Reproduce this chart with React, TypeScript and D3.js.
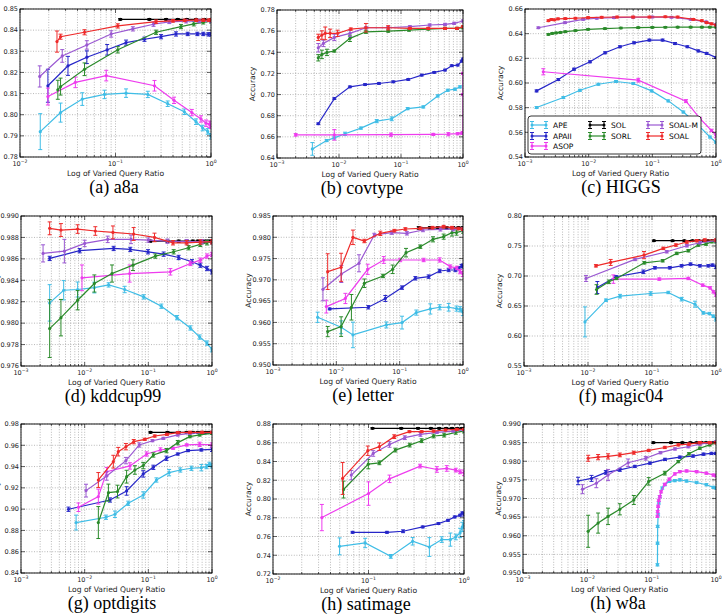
import React from 'react';
import * as d3 from 'd3';

// [method, query ratios, accuracy, error bar half-heights (array or one value for all points)]
type Row = [string, number[], number[], number[] | number];

const methodNames = ['APE', 'APAII', 'ASOP', 'SOL', 'SORL', 'SOAL-M', 'SOAL'];
const methodColors: Record<string, string> = {
  APE: '#3fbde6',
  APAII: '#2626c8',
  ASOP: '#ee3cee',
  SOL: '#000000',
  SORL: '#2a8a2a',
  'SOAL-M': '#9a58d2',
  SOAL: '#ee2a2a',
};

const a8aRows: Row[] = [
  ['APE', [0.0163, 0.0266, 0.0449, 0.0767, 0.129, 0.218, 0.352, 0.526, 0.697, 0.818, 0.923, 1.0],
    [0.792, 0.801, 0.8074, 0.8096, 0.8102, 0.8096, 0.8052, 0.8014, 0.7967, 0.7937, 0.7921, 0.7898],
    [0.0085, 0.0045, 0.003, 0.002, 0.002, 0.0015, 0.0013, 0.0013, 0.0013, 0.0013, 0.0013, 0.0013]],
  ['APAII', [0.0196, 0.0318, 0.0501, 0.0818, 0.129, 0.201, 0.3, 0.43, 0.57, 0.72, 0.83, 0.94, 1.0],
    [0.8137, 0.8231, 0.8272, 0.8307, 0.8341, 0.8357, 0.8369, 0.8382, 0.8382, 0.8382, 0.8382, 0.838, 0.838],
    [0.0078, 0.0045, 0.003, 0.0025, 0.0012, 0.001, 0.001, 0.001, 0.0008, 0.0008, 0.0008, 0.0008, 0.0008]],
  ['ASOP', [0.0196, 0.038, 0.08, 0.256, 0.41, 0.63, 0.785, 0.887, 0.96, 1.0],
    [0.8086, 0.8153, 0.8185, 0.8137, 0.8068, 0.801, 0.798, 0.796, 0.7955, 0.795],
    [0.004, 0.0025, 0.0025, 0.0025, 0.0015, 0.0015, 0.0015, 0.0015, 0.0015, 0.0015]],
  ['SOL', [0.112, 0.226, 0.339, 0.449, 0.557, 0.697, 0.851, 1.0],
    [0.8451, 0.8451, 0.8451, 0.8451, 0.8451, 0.8451, 0.8451, 0.8451], 0.0004],
  ['SORL', [0.0249, 0.0266, 0.0474, 0.1057, 0.266, 0.485, 0.66, 0.83, 1.0],
    [0.8118, 0.8133, 0.8215, 0.8307, 0.839, 0.8417, 0.843, 0.8437, 0.8442],
    [0.0045, 0.004, 0.003, 0.0015, 0.001, 0.001, 0.001, 0.0008, 0.0008]],
  ['SOAL-M', [0.0161, 0.0277, 0.0501, 0.0901, 0.152, 0.25, 0.366, 0.55, 0.75, 1.0],
    [0.8181, 0.8278, 0.833, 0.8382, 0.8406, 0.8428, 0.8439, 0.8442, 0.8443, 0.8443],
    [0.005, 0.003, 0.002, 0.0015, 0.001, 0.001, 0.0008, 0.0008, 0.0008, 0.0008]],
  ['SOAL', [0.0244, 0.0266, 0.0474, 0.1057, 0.266, 0.4, 0.53, 0.7, 0.83, 0.95, 1.0],
    [0.8346, 0.8369, 0.839, 0.842, 0.844, 0.8444, 0.8446, 0.8447, 0.8447, 0.8447, 0.8447],
    [0.005, 0.0012, 0.0012, 0.001, 0.0008, 0.0006, 0.0006, 0.0006, 0.0006, 0.0006, 0.0006]],
];

const covtypeRows: Row[] = [
  ['APE', [0.00372, 0.00633, 0.0084, 0.0125, 0.0226, 0.0406, 0.0708, 0.128, 0.229, 0.391, 0.567, 0.743, 0.895],
    [0.6486, 0.6565, 0.659, 0.6629, 0.6683, 0.6749, 0.6771, 0.6867, 0.6883, 0.6987, 0.7041, 0.7051, 0.7073],
    [0.006, 0.001, 0.001, 0.0015, 0.001, 0.0015, 0.0018, 0.001, 0.001, 0.001, 0.001, 0.001, 0.001]],
  ['APAII', [0.00463, 0.0084, 0.015, 0.0263, 0.0441, 0.0751, 0.131, 0.216, 0.344, 0.513, 0.658, 0.822, 0.953, 1.0],
    [0.6724, 0.6962, 0.7073, 0.7095, 0.7105, 0.7121, 0.7143, 0.7184, 0.721, 0.7232, 0.7273, 0.7279, 0.7317, 0.7337], 0.0008],
  ['ASOP', [0.002, 0.0084, 0.069, 0.332, 0.58, 0.82, 0.96, 1.0, 1.0, 1.0],
    [0.6619, 0.6619, 0.6621, 0.6623, 0.6625, 0.663, 0.6635, 0.664, 0.7, 0.72],
    [0.0012, 0.005, 0.0015, 0.001, 0.0015, 0.001, 0.001, 0.001, 0.001, 0.001]],
  ['SORL', [0.00463, 0.0053, 0.0064, 0.0084, 0.015, 0.0272, 0.0622, 0.135, 0.275, 0.513, 0.8, 1.0],
    [0.7348, 0.738, 0.7399, 0.7412, 0.7532, 0.7594, 0.76, 0.761, 0.762, 0.7626, 0.7626, 0.7632],
    [0.003, 0.004, 0.003, 0.001, 0.003, 0.0015, 0.001, 0.001, 0.001, 0.001, 0.001, 0.001]],
  ['SOAL-M', [0.00463, 0.0056, 0.0084, 0.015, 0.0272, 0.0622, 0.139, 0.29, 0.513, 0.72, 1.0],
    [0.7443, 0.7484, 0.7541, 0.7579, 0.7632, 0.7632, 0.7642, 0.7658, 0.7664, 0.7674, 0.7696],
    [0.004, 0.003, 0.003, 0.003, 0.001, 0.001, 0.001, 0.001, 0.001, 0.001, 0.001]],
  ['SOAL', [0.00463, 0.0053, 0.006, 0.0072, 0.0095, 0.0155, 0.0272, 0.0622, 0.139, 0.275, 0.513, 0.8, 1.0],
    [0.7541, 0.7563, 0.7579, 0.7579, 0.7579, 0.762, 0.7632, 0.7632, 0.7626, 0.7626, 0.7626, 0.7626, 0.7642],
    [0.003, 0.004, 0.006, 0.004, 0.003, 0.001, 0.004, 0.002, 0.001, 0.001, 0.001, 0.001, 0.001]],
];

const higgsRows: Row[] = [
  ['APE', [0.00152, 0.004, 0.0073, 0.0142, 0.0269, 0.0503, 0.0977, 0.178, 0.307, 0.497, 0.805, 1.0],
    [0.5801, 0.5882, 0.5941, 0.599, 0.6012, 0.5996, 0.5936, 0.5855, 0.5765, 0.5671, 0.5562, 0.552], 0.0008],
  ['APAII', [0.00152, 0.00334, 0.00589, 0.0105, 0.0181, 0.031, 0.0515, 0.0897, 0.145, 0.227, 0.355, 0.528, 0.713, 1.0],
    [0.5936, 0.6028, 0.6112, 0.6172, 0.6245, 0.6294, 0.6326, 0.6348, 0.6348, 0.632, 0.6294, 0.626, 0.624, 0.6207], 0.0008],
  ['ASOP', [0.00194, 0.0603, 0.338, 0.561, 0.85, 1.0],
    [0.6091, 0.6023, 0.5853, 0.5711, 0.5615, 0.5576],
    [0.0025, 0.0015, 0.0012, 0.001, 0.001, 0.002]],
  ['SORL', [0.00233, 0.00268, 0.00308, 0.0036, 0.0043, 0.0062, 0.0098, 0.018, 0.032, 0.06, 0.1, 0.16, 0.25, 0.4, 0.6, 0.8, 1.0],
    [0.6394, 0.6402, 0.6406, 0.641, 0.6416, 0.6425, 0.6435, 0.6441, 0.6446, 0.6449, 0.6451, 0.6452, 0.6453, 0.6453, 0.6453, 0.6453, 0.6453], 0.0006],
  ['SOAL-M', [0.00162, 0.00424, 0.0082, 0.0134, 0.025, 0.05, 0.1, 0.2, 0.4, 0.7, 1.0],
    [0.6448, 0.6489, 0.6516, 0.6525, 0.653, 0.6533, 0.6535, 0.6533, 0.6516, 0.6495, 0.6472], 0.0007],
  ['SOAL', [0.00233, 0.0026, 0.0029, 0.0033, 0.0043, 0.0062, 0.0098, 0.016, 0.028, 0.05, 0.09, 0.16, 0.25, 0.44, 0.6, 0.713, 0.85, 1.0],
    [0.6505, 0.6515, 0.6512, 0.652, 0.6522, 0.6525, 0.653, 0.6533, 0.6535, 0.6535, 0.6535, 0.6537, 0.6535, 0.6516, 0.6505, 0.6489, 0.648, 0.647], 0.0007],
];

const kddcupRows: Row[] = [
  ['APE', [0.00282, 0.00468, 0.00776, 0.0142, 0.0238, 0.0425, 0.0845, 0.16, 0.282, 0.457, 0.64, 0.834, 1.0],
    [0.98189, 0.98307, 0.98314, 0.98332, 0.98357, 0.98314, 0.98245, 0.98158, 0.98051, 0.97955, 0.9787, 0.97814, 0.97752],
    [0.0017, 0.0009, 0.0007, 0.0005, 0.0002, 0.0003, 0.0002, 0.0002, 0.0002, 0.0002, 0.0002, 0.0002, 0.0002]],
  ['APAII', [0.00282, 0.00833, 0.0285, 0.0521, 0.0989, 0.174, 0.299, 0.485, 0.656, 0.834, 1.0],
    [0.98604, 0.98676, 0.98697, 0.98688, 0.98666, 0.98644, 0.98613, 0.98573, 0.98541, 0.9851, 0.98479], 0.0002],
  ['ASOP', [0.00908, 0.0509, 0.222, 0.457, 0.656, 0.834, 1.0],
    [0.98423, 0.98463, 0.98479, 0.98557, 0.98588, 0.98626, 0.98641],
    [0.0012, 0.0008, 0.0003, 0.0002, 0.0002, 0.0002, 0.0002]],
  ['SOL', [0.107, 0.2, 0.3, 0.4, 0.5, 0.6, 0.7, 0.8, 0.9, 1.0],
    [0.98765, 0.98765, 0.98765, 0.98765, 0.98765, 0.98765, 0.98765, 0.98765, 0.98765, 0.98765], 0.0001],
  ['SORL', [0.00282, 0.00424, 0.00776, 0.0142, 0.0269, 0.0574, 0.129, 0.25, 0.43, 0.656, 0.834, 1.0],
    [0.97949, 0.98051, 0.98214, 0.9837, 0.98463, 0.98541, 0.98626, 0.98666, 0.98704, 0.98735, 0.9875, 0.9876],
    [0.0027, 0.0017, 0.0009, 0.0008, 0.0008, 0.0005, 0.0002, 0.0002, 0.0002, 0.0002, 0.0002, 0.0002]],
  ['SOAL-M', [0.00222, 0.0048, 0.01, 0.023, 0.0534, 0.1, 0.2, 0.4, 0.7, 1.0],
    [0.98651, 0.98672, 0.98744, 0.98782, 0.98782, 0.98775, 0.98765, 0.9876, 0.9876, 0.9876],
    [0.0008, 0.0011, 0.0003, 0.0003, 0.0004, 0.0002, 0.0002, 0.0002, 0.0002, 0.0002]],
  ['SOAL', [0.00282, 0.00424, 0.00776, 0.0147, 0.0278, 0.0588, 0.125, 0.244, 0.4, 0.656, 1.0],
    [0.98885, 0.98869, 0.98878, 0.9886, 0.98847, 0.98832, 0.988, 0.9875, 0.9875, 0.98757, 0.9876],
    [0.0006, 0.0006, 0.0004, 0.0004, 0.0006, 0.0006, 0.0004, 0.0002, 0.0002, 0.0002, 0.0002]],
];

const letterRows: Row[] = [
  ['APE', [0.00507, 0.0119, 0.0183, 0.0616, 0.109, 0.183, 0.305, 0.428, 0.594, 0.79, 0.9, 1.0],
    [0.96121, 0.95886, 0.95706, 0.95941, 0.95996, 0.96231, 0.96317, 0.96356, 0.96356, 0.96325, 0.9631, 0.9624],
    [0.0012, 0.0015, 0.003, 0.0007, 0.0015, 0.0006, 0.0012, 0.0006, 0.0009, 0.0006, 0.0006, 0.0008]],
  ['APAII', [0.00785, 0.032, 0.0594, 0.109, 0.177, 0.287, 0.428, 0.594, 0.76, 0.85, 0.95, 1.0],
    [0.96317, 0.96356, 0.96563, 0.96818, 0.97037, 0.97076, 0.97209, 0.97232, 0.97232, 0.97272, 0.9732, 0.97334],
    [0.0002, 0.0004, 0.0007, 0.0004, 0.0004, 0.0004, 0.0004, 0.0004, 0.0004, 0.0004, 0.0004, 0.0004]],
  ['ASOP', [0.00695, 0.0139, 0.0313, 0.056, 0.102, 0.239, 0.428, 0.63, 0.8, 0.9, 1.0],
    [0.96372, 0.96563, 0.97248, 0.97467, 0.97467, 0.97467, 0.97467, 0.97311, 0.9728, 0.97193, 0.97138],
    [0.0015, 0.0012, 0.0012, 0.0008, 0.0004, 0.0004, 0.0005, 0.0004, 0.0004, 0.0005, 0.0006]],
  ['SOL', [0.2, 0.3, 0.4, 0.55, 0.7, 0.85, 1.0],
    [0.9822, 0.9822, 0.9822, 0.9822, 0.9822, 0.9822, 0.9822], 0.0003],
  ['SORL', [0.0073, 0.0119, 0.0173, 0.0277, 0.0546, 0.0775, 0.126, 0.212, 0.336, 0.495, 0.67, 0.79, 1.0],
    [0.95785, 0.95902, 0.96356, 0.9692, 0.97092, 0.97248, 0.97639, 0.9778, 0.97952, 0.98015, 0.98109, 0.9811, 0.98156],
    [0.0012, 0.0023, 0.003, 0.001, 0.0004, 0.001, 0.001, 0.0004, 0.0006, 0.0006, 0.0008, 0.0006, 0.0006]],
  ['SOAL-M', [0.00615, 0.012, 0.0228, 0.0398, 0.075, 0.13, 0.233, 0.44, 0.7, 1.0],
    [0.96778, 0.97138, 0.97389, 0.98054, 0.98109, 0.98093, 0.98171, 0.98187, 0.9819, 0.9819],
    [0.0027, 0.002, 0.002, 0.0004, 0.0004, 0.0004, 0.0004, 0.0004, 0.0004, 0.0004]],
  ['SOAL', [0.0073, 0.0119, 0.0183, 0.0277, 0.0495, 0.0824, 0.123, 0.212, 0.33, 0.495, 0.67, 0.85, 1.0],
    [0.97193, 0.97295, 0.97999, 0.97913, 0.98093, 0.98156, 0.98195, 0.9821, 0.98226, 0.9825, 0.98226, 0.98205, 0.9819],
    [0.0042, 0.0033, 0.0017, 0.0004, 0.0005, 0.0003, 0.0003, 0.0003, 0.0003, 0.0003, 0.0003, 0.0003, 0.0003]],
];

const magicRows: Row[] = [
  ['APE', [0.00897, 0.0191, 0.0316, 0.0953, 0.18, 0.291, 0.47, 0.634, 0.79, 0.91, 1.0],
    [0.6235, 0.6597, 0.6664, 0.6708, 0.6725, 0.6614, 0.653, 0.6385, 0.6374, 0.633, 0.628],
    [0.025, 0.002, 0.003, 0.003, 0.002, 0.003, 0.005, 0.002, 0.002, 0.002, 0.003]],
  ['APAII', [0.014, 0.0273, 0.0733, 0.111, 0.19, 0.29, 0.4, 0.56, 0.76, 0.88, 1.0],
    [0.6808, 0.6987, 0.707, 0.7137, 0.7137, 0.717, 0.7198, 0.717, 0.717, 0.7181, 0.7153],
    [0.01, 0.002, 0.003, 0.002, 0.002, 0.002, 0.002, 0.002, 0.002, 0.002, 0.003]],
  ['ASOP', [0.0249, 0.13, 0.37, 0.62, 0.81, 0.91, 1.0],
    [0.6948, 0.6948, 0.6959, 0.6847, 0.6803, 0.6736, 0.6692],
    [0.007, 0.002, 0.002, 0.002, 0.002, 0.002, 0.003]],
  ['SOL', [0.107, 0.21, 0.32, 0.43, 0.54, 0.65, 0.75, 0.86, 0.96, 1.0],
    [0.7588, 0.7588, 0.7588, 0.7588, 0.7588, 0.7588, 0.7588, 0.7588, 0.7588, 0.7588], 0.001],
  ['SORL', [0.0136, 0.0212, 0.028, 0.0758, 0.147, 0.243, 0.37, 0.53, 0.7, 0.86, 1.0],
    [0.6775, 0.6903, 0.6959, 0.722, 0.7254, 0.7376, 0.7421, 0.7516, 0.7532, 0.7571, 0.7571],
    [0.008, 0.003, 0.002, 0.002, 0.002, 0.002, 0.002, 0.002, 0.002, 0.002, 0.002]],
  ['SOAL-M', [0.0093, 0.0542, 0.17, 0.35, 0.56, 1.0],
    [0.6959, 0.7276, 0.7404, 0.7504, 0.7554, 0.7588],
    [0.005, 0.002, 0.002, 0.002, 0.002, 0.002]],
  ['SOAL', [0.0133, 0.0226, 0.075, 0.15, 0.236, 0.35, 0.5, 0.67, 1.0],
    [0.717, 0.7226, 0.7348, 0.746, 0.7516, 0.7566, 0.7588, 0.76, 0.76],
    [0.002, 0.005, 0.006, 0.002, 0.002, 0.002, 0.002, 0.002, 0.002]],
];

const optdigitsRows: Row[] = [
  ['APE', [0.00734, 0.0216, 0.0299, 0.0484, 0.0832, 0.134, 0.212, 0.318, 0.475, 0.68, 0.82, 0.91, 1.0],
    [0.8874, 0.8924, 0.8952, 0.9055, 0.9133, 0.9274, 0.9343, 0.9368, 0.9384, 0.939, 0.94, 0.9421, 0.9406],
    [0.007, 0.002, 0.003, 0.002, 0.003, 0.002, 0.003, 0.002, 0.002, 0.003, 0.002, 0.002, 0.002]],
  ['APAII', [0.00557, 0.025, 0.0456, 0.0832, 0.12, 0.193, 0.29, 0.42, 0.68, 1.0],
    [0.8999, 0.9086, 0.9171, 0.9331, 0.9393, 0.9478, 0.9518, 0.955, 0.9556, 0.9562],
    [0.002, 0.002, 0.004, 0.003, 0.002, 0.002, 0.001, 0.001, 0.001, 0.002]],
  ['ASOP', [0.00798, 0.0164, 0.0222, 0.0514, 0.094, 0.155, 0.245, 0.4, 0.64, 1.0],
    [0.9018, 0.9118, 0.9352, 0.9406, 0.9518, 0.9556, 0.9572, 0.9603, 0.9609, 0.9603],
    [0.004, 0.007, 0.004, 0.003, 0.002, 0.002, 0.001, 0.001, 0.002, 0.002]],
  ['SOL', [0.108, 0.2, 0.3, 0.4, 0.5, 0.6, 0.7, 0.8, 0.9, 1.0],
    [0.9722, 0.9722, 0.9722, 0.9722, 0.9722, 0.9722, 0.9722, 0.9722, 0.9722, 0.9722], 0.0008],
  ['SORL', [0.0164, 0.0236, 0.0328, 0.0456, 0.0615, 0.0832, 0.12, 0.193, 0.29, 0.448, 0.64, 1.0],
    [0.8874, 0.9155, 0.9165, 0.9305, 0.9368, 0.9409, 0.9509, 0.955, 0.9625, 0.9681, 0.9697, 0.9712],
    [0.015, 0.008, 0.006, 0.006, 0.004, 0.003, 0.002, 0.002, 0.002, 0.001, 0.001, 0.001]],
  ['SOAL-M', [0.0105, 0.0222, 0.0445, 0.072, 0.116, 0.172, 0.29, 0.448, 1.0],
    [0.9174, 0.9312, 0.9456, 0.9603, 0.9643, 0.9665, 0.9697, 0.9712, 0.972],
    [0.006, 0.004, 0.003, 0.002, 0.001, 0.001, 0.001, 0.001, 0.001]],
  ['SOAL', [0.0164, 0.0282, 0.0337, 0.0445, 0.059, 0.088, 0.126, 0.196, 0.29, 0.45, 0.7, 1.0],
    [0.9274, 0.9446, 0.954, 0.9587, 0.9634, 0.9656, 0.9687, 0.9703, 0.9719, 0.9722, 0.9722, 0.9722],
    [0.007, 0.006, 0.004, 0.003, 0.002, 0.001, 0.001, 0.001, 0.001, 0.001, 0.001, 0.001]],
];

const satimageRows: Row[] = [
  ['APE', [0.0498, 0.0923, 0.171, 0.29, 0.434, 0.585, 0.72, 0.82, 0.91, 0.96, 1.0],
    [0.7495, 0.7531, 0.7388, 0.7549, 0.7488, 0.7567, 0.7567, 0.7595, 0.7638, 0.7702, 0.773],
    [0.009, 0.005, 0.002, 0.004, 0.01, 0.003, 0.007, 0.003, 0.005, 0.005, 0.004]],
  ['APAII', [0.0681, 0.156, 0.23, 0.37, 0.54, 0.68, 0.8, 0.91, 0.96, 1.0],
    [0.7645, 0.7645, 0.7656, 0.7702, 0.7738, 0.7773, 0.7809, 0.7827, 0.7852, 0.7838],
    [0.001, 0.001, 0.0015, 0.001, 0.001, 0.001, 0.001, 0.001, 0.001, 0.002]],
  ['ASOP', [0.0325, 0.1, 0.166, 0.347, 0.52, 0.66, 0.82, 0.91, 1.0],
    [0.7802, 0.8058, 0.8215, 0.8351, 0.8315, 0.8326, 0.8308, 0.829, 0.8279],
    [0.014, 0.0125, 0.004, 0.002, 0.003, 0.003, 0.002, 0.002, 0.003]],
  ['SOL', [0.11, 0.22, 0.33, 0.45, 0.55, 0.65, 0.75, 0.85, 0.95, 1.0],
    [0.8754, 0.8754, 0.8754, 0.8754, 0.8754, 0.8754, 0.8754, 0.8754, 0.8754, 0.8754], 0.0008],
  ['SORL', [0.0548, 0.0995, 0.13, 0.191, 0.27, 0.36, 0.48, 0.62, 0.82, 1.0],
    [0.8101, 0.8372, 0.8386, 0.8522, 0.8575, 0.8622, 0.8672, 0.8682, 0.8711, 0.8725],
    [0.009, 0.005, 0.002, 0.002, 0.002, 0.002, 0.002, 0.002, 0.002, 0.002]],
  ['SOAL-M', [0.066, 0.112, 0.166, 0.24, 0.35, 0.52, 0.77, 1.0],
    [0.8255, 0.8486, 0.8582, 0.8654, 0.8689, 0.8711, 0.8725, 0.8736],
    [0.005, 0.003, 0.003, 0.002, 0.002, 0.001, 0.001, 0.001]],
  ['SOAL', [0.0536, 0.0983, 0.13, 0.186, 0.268, 0.36, 0.48, 0.64, 0.84, 1.0],
    [0.8219, 0.8515, 0.8558, 0.8665, 0.8718, 0.8718, 0.8725, 0.8736, 0.8743, 0.8743],
    [0.017, 0.005, 0.004, 0.002, 0.001, 0.001, 0.001, 0.001, 0.001, 0.001]],
];

const w8aRows: Row[] = [
  ['APE', [0.123, 0.1235, 0.124, 0.126, 0.129, 0.134, 0.146, 0.16, 0.188, 0.229, 0.274, 0.349, 0.5, 0.71, 0.91, 1.0],
    [0.9522, 0.958, 0.9625, 0.9656, 0.9688, 0.9705, 0.9728, 0.9737, 0.9746, 0.9748, 0.975, 0.9747, 0.9743, 0.9737, 0.973, 0.9728], 0.0003],
  ['APAII', [0.00718, 0.0116, 0.0194, 0.032, 0.0547, 0.094, 0.161, 0.274, 0.44, 0.64, 0.85, 1.0],
    [0.9747, 0.9754, 0.977, 0.9777, 0.9786, 0.9795, 0.9805, 0.9811, 0.9814, 0.9819, 0.9821, 0.9821],
    [0.001, 0.0008, 0.0005, 0.0004, 0.0003, 0.0003, 0.0003, 0.0003, 0.0003, 0.0003, 0.0003, 0.0003]],
  ['ASOP', [0.123, 0.124, 0.126, 0.129, 0.134, 0.14, 0.16, 0.188, 0.229, 0.274, 0.349, 0.5, 0.71, 0.91, 1.0],
    [0.9652, 0.9665, 0.9679, 0.9695, 0.9705, 0.9718, 0.9738, 0.9752, 0.9766, 0.9772, 0.9774, 0.9772, 0.9768, 0.9763, 0.9761], 0.0003],
  ['SOL', [0.106, 0.2, 0.3, 0.4, 0.5, 0.6, 0.7, 0.8, 0.9, 1.0],
    [0.985, 0.985, 0.985, 0.985, 0.985, 0.985, 0.985, 0.985, 0.985, 0.985], 0.0002],
  ['SORL', [0.0103, 0.0147, 0.021, 0.032, 0.0528, 0.09, 0.16, 0.26, 0.38, 0.56, 0.8, 1.0],
    [0.9612, 0.9634, 0.9652, 0.9671, 0.9696, 0.9746, 0.9768, 0.9799, 0.982, 0.9835, 0.9844, 0.985],
    [0.0043, 0.0027, 0.0022, 0.0015, 0.0012, 0.001, 0.0005, 0.0003, 0.0003, 0.0003, 0.0003, 0.0003]],
  ['SOAL-M', [0.0084, 0.0138, 0.021, 0.0431, 0.081, 0.137, 0.23, 0.37, 0.56, 0.8, 1.0],
    [0.9725, 0.9741, 0.9763, 0.9796, 0.9808, 0.9823, 0.9833, 0.9839, 0.9846, 0.985, 0.9852],
    [0.0012, 0.0012, 0.0015, 0.001, 0.0005, 0.0003, 0.0003, 0.0003, 0.0003, 0.0003, 0.0003]],
  ['SOAL', [0.0103, 0.0147, 0.021, 0.032, 0.0528, 0.09, 0.16, 0.26, 0.38, 0.56, 0.8, 1.0],
    [0.9808, 0.9811, 0.9813, 0.9817, 0.9823, 0.9829, 0.9837, 0.9844, 0.9846, 0.985, 0.985, 0.985],
    [0.0008, 0.0007, 0.0007, 0.0005, 0.0004, 0.0003, 0.0003, 0.0003, 0.0003, 0.0003, 0.0003, 0.0003]],
];

interface PanelSpec {
  id: string;
  caption: string;
  rows: Row[];
  xMin: number;
  yMin: number;
  yMax: number;
  yStep: number;
  digits: number;
  left: number;
  right: number;
  top: number;
  bottom: number;
  captionX: number;
  legend?: boolean;
}

const panels: PanelSpec[] = [
  { id: 'a', caption: '(a) a8a', rows: a8aRows, xMin: 0.01, yMin: 0.78, yMax: 0.85, yStep: 0.01, digits: 2, left: 20, right: 211, top: 9, bottom: 157, captionX: 114 },
  { id: 'b', caption: '(b) covtype', rows: covtypeRows, xMin: 0.001, yMin: 0.64, yMax: 0.78, yStep: 0.02, digits: 2, left: 277, right: 463, top: 10, bottom: 158, captionX: 362 },
  { id: 'c', caption: '(c) HIGGS', rows: higgsRows, xMin: 0.001, yMin: 0.54, yMax: 0.66, yStep: 0.02, digits: 2, left: 525, right: 716, top: 9, bottom: 157, captionX: 621, legend: true },
  { id: 'd', caption: '(d) kddcup99', rows: kddcupRows, xMin: 0.001, yMin: 0.976, yMax: 0.99, yStep: 0.002, digits: 3, left: 21, right: 212, top: 216, bottom: 366, captionX: 113 },
  { id: 'e', caption: '(e) letter', rows: letterRows, xMin: 0.001, yMin: 0.95, yMax: 0.985, yStep: 0.005, digits: 3, left: 273, right: 463, top: 216, bottom: 365, captionX: 363 },
  { id: 'f', caption: '(f) magic04', rows: magicRows, xMin: 0.001, yMin: 0.55, yMax: 0.8, yStep: 0.05, digits: 2, left: 524, right: 716, top: 216, bottom: 366, captionX: 621 },
  { id: 'g', caption: '(g) optdigits', rows: optdigitsRows, xMin: 0.001, yMin: 0.84, yMax: 0.98, yStep: 0.02, digits: 2, left: 21, right: 212, top: 424, bottom: 573, captionX: 112 },
  { id: 'h', caption: '(h) satimage', rows: satimageRows, xMin: 0.01, yMin: 0.72, yMax: 0.88, yStep: 0.02, digits: 2, left: 273, right: 464, top: 424, bottom: 574, captionX: 366 },
  { id: 'i', caption: '(h) w8a', rows: w8aRows, xMin: 0.001, yMin: 0.95, yMax: 0.99, yStep: 0.005, digits: 3, left: 523, right: 716, top: 424, bottom: 573, captionX: 618 },
];

const sans = 'DejaVu Sans, sans-serif';
const serif = 'Liberation Serif, Times New Roman, serif';

const errAt = (e: number[] | number, i: number) => (typeof e === 'number' ? e : e[i]);

function ErrorBar({ cx, y0, y1, color }: { cx: number; y0: number; y1: number; color: string }) {
  return (
    <g stroke={color} strokeWidth={1}>
      <line x1={cx} x2={cx} y1={y0} y2={y1} />
      <line x1={cx - 2} x2={cx + 2} y1={y0} y2={y0} />
      <line x1={cx - 2} x2={cx + 2} y1={y1} y2={y1} />
    </g>
  );
}

function Legend({ x0, y0 }: { x0: number; y0: number }) {
  const cols = [['APE', 'APAII', 'ASOP'], ['SOL', 'SORL'], ['SOAL-M', 'SOAL']];
  const colX = [4, 62, 120];
  const rowY = [9, 20, 30];
  return (
    <g>
      <rect x={x0} y={y0} width={173} height={38} rx={3} fill="#fff" stroke="#000" strokeWidth={0.8} />
      {cols.map((col, ci) =>
        col.map((name, ri) => {
          const hx = x0 + colX[ci];
          const hy = y0 + rowY[ri];
          const c = methodColors[name];
          return (
            <g key={name}>
              <line x1={hx} x2={hx + 14} y1={hy} y2={hy} stroke={c} strokeWidth={1.2} />
              <ErrorBar cx={hx} y0={hy - 3.5} y1={hy + 3.5} color={c} />
              <ErrorBar cx={hx + 14} y0={hy - 3.5} y1={hy + 3.5} color={c} />
              <circle cx={hx} cy={hy} r={1.5} fill={c} />
              <circle cx={hx + 14} cy={hy} r={1.5} fill={c} />
              <text x={hx + 21} y={hy + 2.7} fontSize={7.5} fontFamily={sans} fill="#000">{name}</text>
            </g>
          );
        })
      )}
    </g>
  );
}

function Panel({ p }: { p: PanelSpec }) {
  const x = d3.scaleLog().domain([p.xMin, 1]).range([p.left, p.right]);
  const y = d3.scaleLinear().domain([p.yMin, p.yMax]).range([p.bottom, p.top]);
  const line = d3.line<[number, number]>().x(d => x(d[0])).y(d => y(d[1]));

  const e0 = Math.round(Math.log10(p.xMin));
  const majors = d3.range(e0, 1);
  const minors = d3.range(e0, 0).flatMap(e => d3.range(2, 10).map(m => m * Math.pow(10, e)));
  const nY = Math.round((p.yMax - p.yMin) / p.yStep);
  const yTicks = d3.range(0, nY + 1).map(i => p.yMin + i * p.yStep);
  const clipId = `clip-${p.id}`;
  const midY = (p.top + p.bottom) / 2;
  const midX = (p.left + p.right) / 2;

  return (
    <g>
      <defs>
        <clipPath id={clipId}>
          <rect x={p.left} y={p.top} width={p.right - p.left} height={p.bottom - p.top} />
        </clipPath>
      </defs>

      {/* dotted grid: log major + minor on x, major on y */}
      <g stroke="#8a8a8a" strokeWidth={0.6} strokeDasharray="1,1.6">
        {[...majors.map(e => Math.pow(10, e)), ...minors].map((v, i) => (
          <line key={`gx${i}`} x1={x(v)} x2={x(v)} y1={p.top} y2={p.bottom} />
        ))}
        {yTicks.map((v, i) => (
          <line key={`gy${i}`} x1={p.left} x2={p.right} y1={y(v)} y2={y(v)} />
        ))}
      </g>

      <g clipPath={`url(#${clipId})`}>
        {p.rows.map(([name, xs, ys, es]) => {
          const c = methodColors[name];
          const pts = xs.map((v, i) => [v, ys[i]] as [number, number]);
          return (
            <g key={name}>
              <path d={line(pts) || ''} fill="none" stroke={c} strokeWidth={1.2} />
              {pts.map(([vx, vy], i) => (
                <ErrorBar key={i} cx={x(vx)} y0={y(vy - errAt(es, i))} y1={y(vy + errAt(es, i))} color={c} />
              ))}
              {pts.map(([vx, vy], i) => (
                <circle key={`m${i}`} cx={x(vx)} cy={y(vy)} r={1.6} fill={c} />
              ))}
            </g>
          );
        })}
      </g>

      <rect x={p.left} y={p.top} width={p.right - p.left} height={p.bottom - p.top} fill="none" stroke="#000" strokeWidth={0.9} />

      {/* inward ticks */}
      <g stroke="#000" strokeWidth={0.6}>
        {majors.map(e => {
          const px = x(Math.pow(10, e));
          return (
            <g key={`tx${e}`}>
              <line x1={px} x2={px} y1={p.bottom} y2={p.bottom - 4} />
              <line x1={px} x2={px} y1={p.top} y2={p.top + 4} />
            </g>
          );
        })}
        {minors.map((v, i) => (
          <g key={`tm${i}`}>
            <line x1={x(v)} x2={x(v)} y1={p.bottom} y2={p.bottom - 2} />
            <line x1={x(v)} x2={x(v)} y1={p.top} y2={p.top + 2} />
          </g>
        ))}
        {yTicks.map((v, i) => (
          <g key={`ty${i}`}>
            <line x1={p.left} x2={p.left + 4} y1={y(v)} y2={y(v)} />
            <line x1={p.right} x2={p.right - 4} y1={y(v)} y2={y(v)} />
          </g>
        ))}
      </g>

      <g fontFamily={sans} fill="#222">
        {majors.map(e => (
          <text key={`lx${e}`} x={x(Math.pow(10, e))} y={p.bottom + 9} fontSize={6.5} textAnchor="middle">
            10<tspan fontSize={4.6} dy={-3}>{e === 0 ? '0' : `\u2212${Math.abs(e)}`}</tspan>
          </text>
        ))}
        {yTicks.map((v, i) => (
          <text key={`ly${i}`} x={p.left - 2} y={y(v) + 2.3} fontSize={6.5} textAnchor="end">
            {v.toFixed(p.digits)}
          </text>
        ))}
        <text x={midX} y={p.bottom + 19} fontSize={7.6} textAnchor="middle">Log of Varied Query Ratio</text>
        <text transform={`translate(${p.left - 22},${midY}) rotate(-90)`} fontSize={7.6} textAnchor="middle">Accuracy</text>
      </g>

      {p.legend && <Legend x0={p.left + 3} y0={p.bottom - 41} />}

      <text x={p.captionX} y={p.bottom + 36} fontSize={18} fontFamily={serif} textAnchor="middle" fill="#000">
        {p.caption}
      </text>
    </g>
  );
}

export default function App() {
  return (
    <svg
      width={723}
      height={615}
      viewBox="0 0 723 615"
      style={{ position: 'absolute', left: 0, top: 0, background: '#fff' }}
    >
      <rect x={0} y={0} width={723} height={615} fill="#fff" />
      {panels.map(p => (
        <Panel key={p.id} p={p} />
      ))}
    </svg>
  );
}
